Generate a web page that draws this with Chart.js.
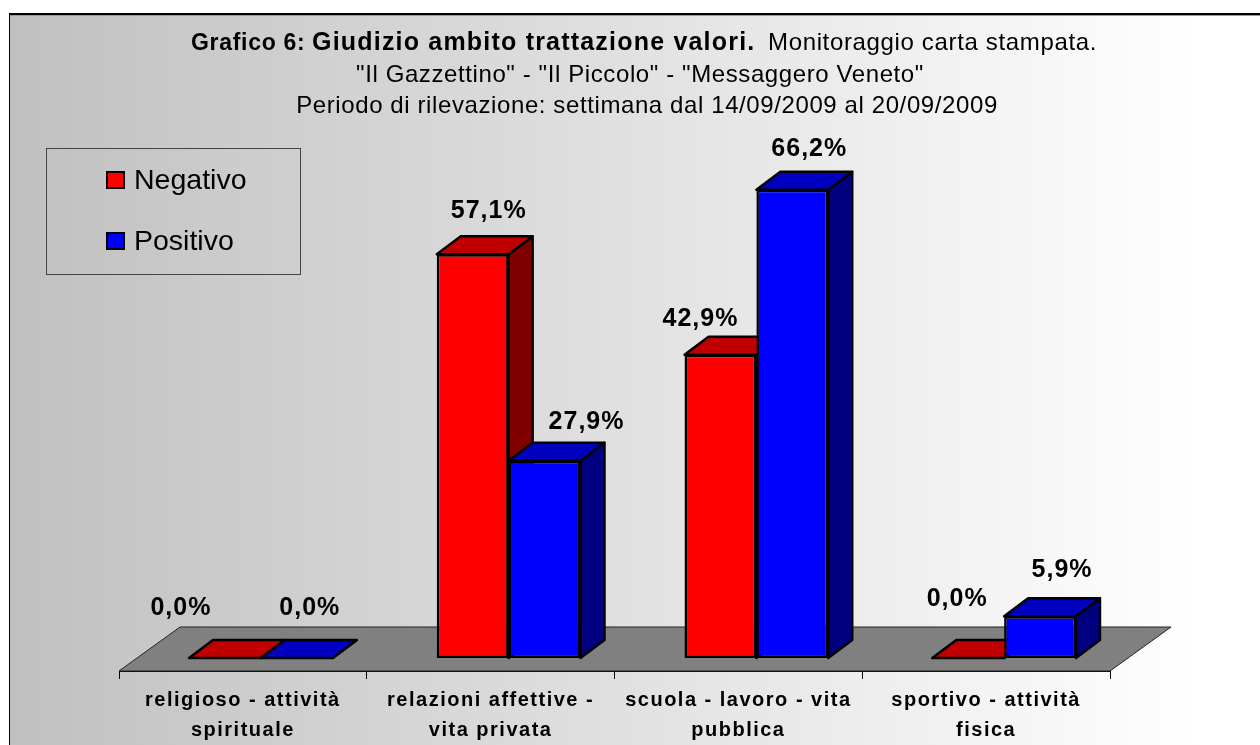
<!DOCTYPE html>
<html>
<head>
<meta charset="utf-8">
<title>Grafico 6</title>
<style>
html, body { margin: 0; padding: 0; background: #fff; overflow: hidden; }
canvas { display: block; }
</style>
<script src="https://cdn.jsdelivr.net/npm/chart.js@4/dist/chart.umd.js"></script>
</head>
<body>
<canvas id="myChart" width="1260" height="745"></canvas>
<script>
var categories = [
    ['religioso - attività', 'spirituale'],
    ['relazioni affettive -', 'vita privata'],
    ['scuola - lavoro - vita', 'pubblica'],
    ['sportivo - attività', 'fisica']
];
var negativo = [0.0, 57.1, 42.9, 0.0];
var positivo = [0.0, 27.9, 66.2, 5.9];

var FONT = '"Liberation Sans", Arial, sans-serif';

// hand placed data label offsets from the bar front (centre x, top y), like the original
var labelOffsets = [
    [[-44, -52], [13, -52]],
    [[16, -45], [42, -41]],
    [[-20, -38], [17, -43]],
    [[-11, -61], [22, -48]]
];

// fake 3D: bars sit in front of a floor, with this depth
var depth = { x: 24, y: -18 };
var barShift = { x: 18, y: -13 };
var floorDepth = { x: 61, y: -44 };

function poly(ctx, pts, fill) {
    ctx.beginPath();
    ctx.moveTo(pts[0][0], pts[0][1]);
    for (var i = 1; i < pts.length; i++) ctx.lineTo(pts[i][0], pts[i][1]);
    ctx.closePath();
    if (fill) {
        ctx.fillStyle = fill;
        ctx.fill();
    }
    ctx.stroke();
}

var frame3d = {
    id: 'frame3d',
    beforeDraw: function(chart) {
        var ctx = chart.ctx;
        var g = ctx.createLinearGradient(10, 0, 1200, 0);
        g.addColorStop(0, '#c0c0c0');
        g.addColorStop(1, '#ffffff');
        ctx.save();
        ctx.fillStyle = g;
        ctx.fillRect(9, 13, 1251, 732);
        // only top and left of the frame are inside the picture
        ctx.fillStyle = '#999';
        ctx.fillRect(9, 15, 1251, 1);
        ctx.fillStyle = '#000';
        ctx.fillRect(9, 13, 1251, 2);
        ctx.fillRect(9, 13, 1, 732);
        ctx.restore();
        ctx.letterSpacing = '1.5px';  // x axis labels are spaced out in the original
    },
    beforeDatasetsDraw: function(chart) {
        var ctx = chart.ctx;
        var a = chart.chartArea;
        ctx.save();
        // floor
        ctx.strokeStyle = '#222';
        ctx.lineWidth = 1;
        poly(ctx, [
            [a.left, a.bottom],
            [a.right, a.bottom],
            [a.right + floorDepth.x, a.bottom + floorDepth.y],
            [a.left + floorDepth.x, a.bottom + floorDepth.y]
        ], '#808080');

        ctx.translate(barShift.x, barShift.y);
        ctx.strokeStyle = '#000';
        ctx.lineWidth = 2.5;
        ctx.lineJoin = 'round';
        var faces = [['#c00000', '#800000'], ['#0000c0', '#000080']];
        chart.data.datasets.forEach(function(ds, i) {
            var meta = chart.getDatasetMeta(i);
            meta.data.forEach(function(bar) {
                var l = bar.x - bar.width / 2, r = bar.x + bar.width / 2;
                var t = bar.y, b = bar.base;
                poly(ctx, [[r, b], [r + depth.x, b + depth.y], [r + depth.x, t + depth.y], [r, t]], faces[i][1]);
                poly(ctx, [[l, t], [r, t], [r + depth.x, t + depth.y], [l + depth.x, t + depth.y]], faces[i][0]);
            });
            meta.controller.draw();
        });
        ctx.restore();
        drawTexts(chart);
        return false;
    }
};

function drawTexts(chart) {
    var ctx = chart.ctx;
    ctx.save();
    ctx.fillStyle = '#000';
    ctx.textBaseline = 'alphabetic';

    // data labels
    ctx.textAlign = 'center';
    ctx.font = 'bold 25px ' + FONT;
    ctx.letterSpacing = '1px';
    chart.data.datasets.forEach(function(ds, i) {
        chart.getDatasetMeta(i).data.forEach(function(bar, j) {
            var off = labelOffsets[j][i];
            var text = ds.data[j].toFixed(1).replace('.', ',') + '%';
            ctx.fillText(text, bar.x + barShift.x + off[0], bar.y + barShift.y + off[1] + 9);
        });
    });

    // title, first line mixes three styles
    var parts = [
        ['bold 23px ' + FONT, 'Grafico 6:', 191, '0.7px'],
        ['bold 25px ' + FONT, 'Giudizio ambito trattazione valori.', 312, '1.2px'],
        ['24px ' + FONT, 'Monitoraggio carta stampata.', 768, '0.65px']
    ];
    ctx.textAlign = 'left';
    parts.forEach(function(p) {
        ctx.font = p[0];
        ctx.letterSpacing = p[3];
        ctx.fillText(p[1], p[2], 50);
    });
    ctx.textAlign = 'center';
    ctx.font = '24px ' + FONT;
    ctx.letterSpacing = '0.6px';
    ctx.fillText('"Il Gazzettino" - "Il Piccolo" - "Messaggero Veneto"', 640, 82);
    ctx.fillText('Periodo di rilevazione: settimana dal 14/09/2009 al 20/09/2009', 647, 113);

    // legend box
    ctx.letterSpacing = '0px';
    ctx.strokeStyle = '#444';
    ctx.lineWidth = 1;
    ctx.strokeRect(46.5, 148.5, 254, 126);
    ctx.textAlign = 'left';
    ctx.font = '28.5px ' + FONT;
    chart.data.datasets.forEach(function(ds, i) {
        var y = 180 + i * 61;
        ctx.fillStyle = ds.backgroundColor;
        ctx.strokeStyle = '#000';
        ctx.lineWidth = 2;
        ctx.fillRect(107, y - 8, 17, 16);
        ctx.strokeRect(107, y - 8, 17, 16);
        ctx.fillStyle = '#000';
        ctx.fillText(ds.label, 134, y + 9);
    });
    ctx.restore();
}

document.addEventListener('DOMContentLoaded', function() {
    var ctx = document.getElementById('myChart').getContext('2d');
    new Chart(ctx, {
        type: 'bar',
        data: {
            labels: categories,
            datasets: [
                { label: 'Negativo', data: negativo, backgroundColor: '#ff0000', borderColor: '#000', borderWidth: 2.5, borderSkipped: false },
                { label: 'Positivo', data: positivo, backgroundColor: '#0000ff', borderColor: '#000', borderWidth: 2.5, borderSkipped: false }
            ]
        },
        options: {
            responsive: false,
            animation: false,
            events: [],
            layout: { padding: { left: 119, right: 150, top: 176, bottom: 0 } },
            categoryPercentage: 0.58,
            barPercentage: 1,
            plugins: {
                legend: { display: false },
                title: { display: false },
                tooltip: { enabled: false }
            },
            scales: {
                x: {
                    afterFit: function(scale) { scale.height = 74; },
                    border: { color: '#000', width: 1 },
                    grid: { drawOnChartArea: false, color: '#000', tickLength: 8, tickColor: '#000' },
                    ticks: {
                        color: '#000',
                        font: { family: FONT, size: 20, weight: 'bold', lineHeight: 1.5 },
                        padding: 6,
                        maxRotation: 0,
                        autoSkip: false
                    }
                },
                y: { display: false, min: 0, max: 70 }
            }
        },
        plugins: [frame3d]
    });
});
</script>
</body>
</html>
